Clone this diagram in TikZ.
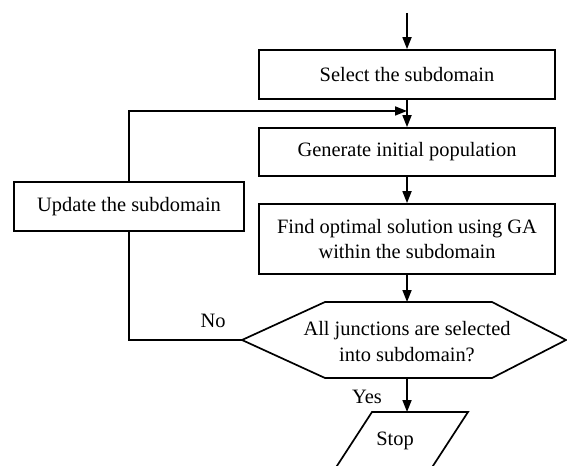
\documentclass[tikz,border=0pt]{standalone}
\usepackage{fontspec}
\setmainfont{Liberation Serif}
\usetikzlibrary{arrows.meta}
\begin{document}
\begin{tikzpicture}[x=1bp,y=-1bp,
  line width=1.7bp,
  font=\fontsize{20.5}{26}\selectfont,
  stepbox/.style={draw, inner sep=0pt, align=center},
  arr/.style={-{Triangle[length=12bp,width=9bp]}},
  lbl/.style={inner sep=0pt}]
\useasboundingbox (0,0) rectangle (567,466);
% main boxes
\node[stepbox, minimum width=296bp, minimum height=49bp] (select) at (407,74.5) {Select the subdomain};
\node[stepbox, minimum width=296bp, minimum height=48bp] (gen) at (407,152) {Generate initial population};
\node[stepbox, minimum width=296bp, minimum height=70bp] (find) at (407,239) {Find optimal solution using GA\\within the subdomain};
\node[stepbox, minimum width=230bp, minimum height=49bp] (update) at (129,206.5) {Update the subdomain};
% decision hexagon
\coordinate (hexL) at (242,340);
\coordinate (hexT) at (407,302);
\coordinate (hexB) at (407,378);
\draw (hexL) -- (325,302) -- (492,302) -- (566,340) -- (492,378) -- (325,378) -- cycle;
\node[lbl, align=center] (dec) at (407,342) {All junctions are selected\\into subdomain?};
% stop parallelogram
\coordinate (stopT) at (407,412);
\draw (372,412) -- (468,412) -- (429,472) -- (333,472) -- cycle;
\node[lbl] (stop) at (395,441) {Stop};
% connectors
\coordinate (start) at (407,13);
\coordinate (join) at (407,111);
\draw[arr] (start) -- (select.north);
\draw[arr] (select.south) -- (gen.north);
\draw[arr] (gen.south) -- (find.north);
\draw[arr] (find.south) -- (hexT);
\draw[arr] (hexB) -- (stopT);
\draw (hexL) -| (update.south);
\draw[arr] (update.north) |- (join);
% labels
\node[lbl] (no) at (213,321) {No};
\node[lbl] (yes) at (367,397) {Yes};
\end{tikzpicture}
\end{document}
